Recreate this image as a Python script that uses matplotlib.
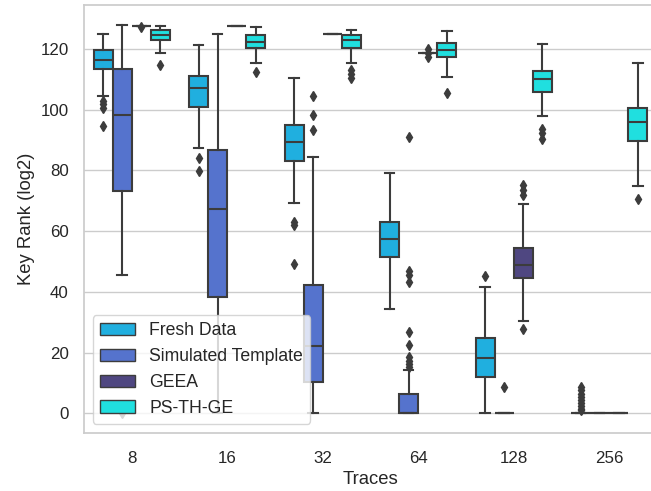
import matplotlib
matplotlib.use("Agg")
import matplotlib.pyplot as plt
from matplotlib.patches import Patch

plt.rcParams['font.family'] = ['Liberation Sans', 'DejaVu Sans']

categories = ['8', '16', '32', '64', '128', '256']
series = ['Fresh Data', 'Simulated Template', 'GEEA', 'PS-TH-GE']
colors = ['#20afdf', '#5573cd', '#4f4781', '#20dfdf']

# per category: (whisker low, q1, median, q3, whisker high)
fresh_stats = [(104.4, 113.3, 116.5, 119.6, 125.1),
               (87.5, 100.9, 107.3, 111.0, 121.3),
               (69.3, 83.0, 89.3, 95.0, 110.6),
               (34.2, 51.4, 57.3, 62.9, 79.1),
               (0.0, 11.8, 18.3, 24.9, 41.6),
               (0.0, 0.0, 0.0, 0.0, 0.0)]
fresh_fliers = [[103.0, 102.0, 100.5, 94.6],
                [84.0, 79.7],
                [63.0, 62.0, 49.3],
                [],
                [45.2],
                [8.7, 7.6, 6.5, 5.5, 4.5, 3.5, 2.5, 1.5, 1.0]]

sim_stats = [(45.7, 73.2, 98.4, 113.5, 127.8),
             (0.0, 38.3, 67.4, 86.7, 124.9),
             (0.0, 10.3, 22.1, 42.4, 84.5),
             (0.0, 0.0, 0.0, 6.2, 14.2),
             (0.0, 0.0, 0.0, 0.0, 0.0),
             (0.0, 0.0, 0.0, 0.0, 0.0)]
sim_fliers = [[0.0],
              [],
              [104.5, 98.4, 93.2],
              [91.0, 47.0, 45.4, 43.3, 26.8, 22.5, 18.5, 17.3, 16.2, 15.2],
              [8.7],
              []]

geea_stats = [(127.6, 127.6, 127.6, 127.6, 127.6),
              (127.6, 127.6, 127.6, 127.6, 127.6),
              (124.9, 124.9, 124.9, 124.9, 124.9),
              (118.8, 118.8, 118.8, 118.8, 118.8),
              (30.3, 44.4, 49.0, 54.3, 68.8),
              (0.0, 0.0, 0.0, 0.0, 0.0)]
geea_fliers = [[127.4],
               [],
               [],
               [120.1, 118.7, 117.3],
               [75.1, 73.5, 72.0, 27.7],
               []]

ps_stats = [(118.8, 123.1, 124.7, 126.4, 127.5),
            (115.5, 120.4, 122.3, 124.5, 127.3),
            (115.5, 120.4, 122.9, 124.5, 126.2),
            (110.8, 117.4, 119.6, 122.1, 126.0),
            (98.0, 105.7, 110.0, 112.8, 121.8),
            (75.0, 89.6, 95.8, 100.7, 115.5)]
ps_fliers = [[114.7],
             [112.5],
             [113.2, 111.8, 110.3],
             [105.5],
             [93.6, 92.3, 90.3],
             [70.5]]

all_stats = [fresh_stats, sim_stats, geea_stats, ps_stats]
all_fliers = [fresh_fliers, sim_fliers, geea_fliers, ps_fliers]

gray = '#3c3c3c'
text_color = '#262626'

fig = plt.figure(figsize=(6.51, 4.91), dpi=100)
ax = fig.add_axes([84 / 651, (491 - 432.7) / 491, 573 / 651, 427.4 / 491])
ax.set_axisbelow(True)

n_hue = len(series)
width = 0.8 / n_hue
for i in range(len(categories)):
    for j in range(n_hue):
        lo, q1, med, q3, hi = all_stats[j][i]
        st = [dict(whislo=lo, q1=q1, med=med, q3=q3, whishi=hi,
                   fliers=all_fliers[j][i])]
        pos = i - 0.4 + width * (j + 0.5)
        ax.bxp(st, positions=[pos], widths=width, patch_artist=True,
               manage_ticks=False,
               boxprops=dict(facecolor=colors[j], edgecolor=gray, linewidth=1.5),
               whiskerprops=dict(color=gray, linewidth=1.5),
               capprops=dict(color=gray, linewidth=1.5),
               medianprops=dict(color=gray, linewidth=1.5),
               flierprops=dict(marker='d', markerfacecolor=gray,
                               markeredgecolor=gray, markersize=5))

ax.set_xlim(-0.5, len(categories) - 0.5)
ax.set_ylim(-6.4, 134.4)
ax.set_xticks(range(len(categories)))
ax.set_xticklabels(categories)
ax.set_yticks([0, 20, 40, 60, 80, 100, 120])

ax.yaxis.grid(True, color='#cccccc', linewidth=1.0)
ax.xaxis.grid(False)
for s in ax.spines.values():
    s.set_color('#cccccc')
    s.set_linewidth(1.25)

ax.tick_params(axis='x', length=0, pad=13, labelsize=12.2, labelcolor=text_color)
ax.tick_params(axis='y', length=0, pad=11, labelsize=12.2, labelcolor=text_color)
ax.set_xlabel('Traces', fontsize=13.3, color=text_color)
ax.set_ylabel('Key Rank (log2)', fontsize=13.3, color=text_color)

handles = [Patch(facecolor=c, edgecolor=gray, linewidth=1.0, label=l)
           for c, l in zip(colors, series)]
leg = ax.legend(handles=handles, loc='lower left', fontsize=12.7,
                frameon=True, framealpha=0.8, edgecolor='#cccccc', fancybox=True)
for t in leg.get_texts():
    t.set_color(text_color)

fig.savefig('out.png', dpi=100)
